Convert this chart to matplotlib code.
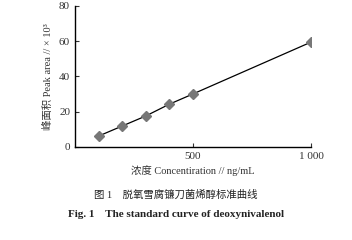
import matplotlib
matplotlib.use("Agg")
import matplotlib.pyplot as plt

conc = [100, 200, 300, 400, 500, 1000]
area = [6.2, 11.9, 17.6, 24.3, 30.1, 59.5]
xticks = [500, 1000]
xticklabels = ["500", "1 000"]
yticks = [0, 20, 40, 60, 80]

fam = ['Liberation Serif', 'Noto Sans CJK SC']
plt.rcParams['font.family'] = fam

fig = plt.figure(figsize=(3.52, 2.40), dpi=100)
ax = fig.add_axes([0.213, 0.3875, 0.6705, 0.5875])
ax.plot(conc, area, color='black', lw=0.9, zorder=2)
ax.plot(conc, area, linestyle='none', marker='D', ms=5.5, color='#777777', zorder=3)
ax.set_xlim(0, 1000)
ax.set_ylim(0, 80)
ax.set_xticks(xticks)
ax.set_xticklabels(xticklabels)
ax.set_yticks(yticks)
for s in ['top', 'right']:
    ax.spines[s].set_visible(False)
for s in ['left', 'bottom']:
    ax.spines[s].set_linewidth(1.0)
ax.tick_params(direction='in', length=3, width=0.8, labelsize=8, colors='#333333')
ax.set_ylabel('峰面积 Peak area // × 10³', fontsize=7.5, color='#333333', labelpad=4,
              family=fam)
ax.set_xlabel('浓度 Concentiration // ng/mL', fontsize=7.5, color='#333333', labelpad=3,
              family=fam)

fig.text(0.50, 0.19, '图 1    脱氧雪腐镰刀菌烯醇标准曲线', ha='center', va='center', fontsize=7.5, color='#222222')
fig.text(0.193, 0.105, 'Fig. 1    The standard curve of deoxynivalenol', ha='left', va='center', fontsize=8, fontweight='bold', color='#222222')

fig.savefig('out.png', dpi=100)
